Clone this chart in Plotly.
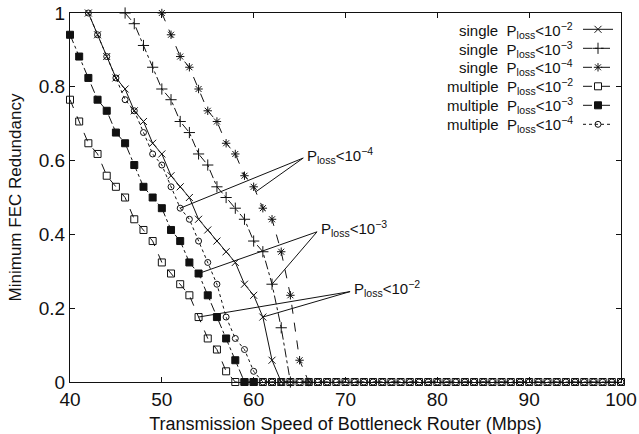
import plotly.graph_objects as go

# ---------------- data ----------------
speed_multi_2 = list(range(40, 101))
fec_multi_2 = [0.765, 0.706, 0.647, 0.618, 0.559, 0.529, 0.500, 0.441, 0.412, 0.382,
               0.324, 0.294, 0.265, 0.235, 0.176, 0.118, 0.088, 0.029,
               0, 0, 0, 0, 0, 0, 0, 0, 0, 0, 0, 0, 0, 0, 0, 0, 0, 0, 0, 0, 0, 0, 0,
               0, 0, 0, 0, 0, 0, 0, 0, 0, 0, 0, 0, 0, 0, 0, 0, 0, 0, 0, 0, 0]

speed_multi_3 = list(range(40, 61))
fec_multi_3 = [0.941, 0.882, 0.824, 0.765, 0.735, 0.676, 0.647, 0.588, 0.529, 0.500,
               0.471, 0.412, 0.382, 0.324, 0.294, 0.235, 0.176, 0.118, 0.059,
               0, 0]

speed_multi_4 = list(range(42, 101))
fec_multi_4 = [1.0, 0.941, 0.882, 0.824, 0.765, 0.735, 0.676, 0.618, 0.588, 0.529,
               0.471, 0.441, 0.382, 0.324, 0.265, 0.176, 0.118, 0.088, 0.029,
               0, 0, 0, 0, 0, 0, 0, 0, 0, 0, 0, 0, 0, 0, 0, 0, 0, 0, 0, 0, 0, 0,
               0, 0, 0, 0, 0, 0, 0, 0, 0, 0, 0, 0, 0, 0, 0, 0, 0, 0]

speed_single_2 = list(range(42, 64))
fec_single_2 = [1.0, 0.941, 0.882, 0.824, 0.794, 0.735, 0.706, 0.647, 0.618, 0.559,
                0.529, 0.500, 0.441, 0.412, 0.382, 0.353, 0.324, 0.265, 0.235, 0.176,
                0.059, 0]

speed_single_3 = list(range(46, 65))
fec_single_3 = [1.0, 0.971, 0.912, 0.853, 0.794, 0.765, 0.706, 0.676, 0.618, 0.588,
                0.529, 0.500, 0.471, 0.441, 0.382, 0.353, 0.265, 0.147, 0]

speed_single_4 = list(range(50, 67))
fec_single_4 = [1.0, 0.941, 0.882, 0.853, 0.794, 0.735, 0.706, 0.647, 0.618, 0.559,
                0.529, 0.471, 0.441, 0.353, 0.235, 0.059, 0]

legend_labels = [
    "single\u00a0\u00a0P<sub>loss</sub>&lt;10<sup>\u22122</sup>",
    "single\u00a0\u00a0P<sub>loss</sub>&lt;10<sup>\u22123</sup>",
    "single\u00a0\u00a0P<sub>loss</sub>&lt;10<sup>\u22124</sup>",
    "multiple\u00a0\u00a0P<sub>loss</sub>&lt;10<sup>\u22122</sup>",
    "multiple\u00a0\u00a0P<sub>loss</sub>&lt;10<sup>\u22123</sup>",
    "multiple\u00a0\u00a0P<sub>loss</sub>&lt;10<sup>\u22124</sup>",
]

x_ticks = [40, 50, 60, 70, 80, 90, 100]
x_ticktext = ["40", "50", "60", "70", "80", "90", "100"]
y_ticks = [0, 0.2, 0.4, 0.6, 0.8, 1.0]
y_ticktext = ["0", "0.2", "0.4", "0.6", "0.8", "1"]

callout_text = ["P<sub>loss</sub>&lt;10<sup>\u22124</sup>",
                "P<sub>loss</sub>&lt;10<sup>\u22123</sup>",
                "P<sub>loss</sub>&lt;10<sup>\u22122</sup>"]
callout_anchor_x = [65.4, 66.9, 70.5]
callout_anchor_y = [0.607, 0.407, 0.245]

FONT = "Liberation Sans, Arial, Helvetica, sans-serif"
BLK = "#111111"

fig = go.Figure()

series = [
    (speed_single_2, fec_single_2, "x-thin-open", "solid", 7, legend_labels[0]),
    (speed_single_3, fec_single_3, "cross-thin-open", "dashdot", 8, legend_labels[1]),
    (speed_single_4, fec_single_4, "asterisk-open", "dash", 7, legend_labels[2]),
    (speed_multi_2, fec_multi_2, "square-open", "dash", 7, legend_labels[3]),
    (speed_multi_3, fec_multi_3, "square", "dashdot", 7, legend_labels[4]),
    (speed_multi_4, fec_multi_4, "circle-open", "dot", 6, legend_labels[5]),
]

for xs, ys, sym, dash, size, label in series:
    fig.add_trace(go.Scatter(
        x=xs, y=ys, mode="lines+markers", name=" ",
        line=dict(color=BLK, width=1, dash=dash),
        marker=dict(symbol=sym, size=size, color=BLK,
                    line=dict(color=BLK, width=1)),
        cliponaxis=False, hoverinfo="x+y",
    ))

annotations = []
row0 = 30.3
for i, lab in enumerate(legend_labels):
    ypx = row0 + 18.8 * i
    annotations.append(dict(
        xref="paper", yref="paper", x=(575 - 70) / 551, y=1 - (ypx - 13) / 369,
        xanchor="right", yanchor="middle", text=lab, showarrow=False,
        font=dict(family=FONT, size=15, color=BLK), align="right"))

targets = [
    [(speed_multi_4[10], fec_multi_4[10]), (60.26, 0.516)],
    [(speed_multi_3[14], fec_multi_3[14]), (speed_single_3[16], fec_single_3[16])],
    [(speed_multi_2[14], fec_multi_2[14]), (speed_single_2[19], fec_single_2[19])],
]
shapes = []
for k in range(3):
    ax_, ay_ = callout_anchor_x[k], callout_anchor_y[k]
    for (tx, ty) in targets[k]:
        shapes.append(dict(type="line", xref="x", yref="y", x0=ax_, y0=ay_, x1=tx, y1=ty,
                           line=dict(color=BLK, width=1)))
    annotations.append(dict(
        x=ax_, y=ay_, xref="x", yref="y", text=callout_text[k], showarrow=False,
        xanchor="left", yanchor="middle", xshift=2, yshift=3,
        font=dict(family=FONT, size=15, color=BLK)))

fig.update_layout(
    width=639, height=434,
    margin=dict(l=70, r=18, t=13, b=52, autoexpand=False),
    paper_bgcolor="white", plot_bgcolor="white",
    font=dict(family=FONT, color=BLK),
    showlegend=True,
    legend=dict(x=(578 - 70) / 551, y=1 - (14.8 - 13) / 369, xanchor="left", yanchor="top",
                bgcolor="rgba(0,0,0,0)", borderwidth=0, font=dict(size=11)),
    annotations=annotations,
    shapes=shapes,
    xaxis=dict(range=[40, 100], tickvals=x_ticks, ticktext=x_ticktext, automargin=False,
               ticks="inside", ticklen=5, tickcolor=BLK, showline=True, linecolor=BLK,
               linewidth=1, mirror="ticks", showgrid=False, zeroline=False,
               tickfont=dict(size=19, family=FONT),
               title=dict(text="Transmission Speed of Bottleneck Router (Mbps)",
                          font=dict(size=18, family=FONT), standoff=12)),
    yaxis=dict(range=[0, 1], tickvals=y_ticks, ticktext=y_ticktext, automargin=False,
               ticks="inside", ticklen=5, tickcolor=BLK, showline=True, linecolor=BLK,
               linewidth=1, mirror="ticks", showgrid=False, zeroline=False,
               tickfont=dict(size=19, family=FONT),
               title=dict(text="Minimum FEC Redundancy",
                          font=dict(size=17, family=FONT), standoff=12)),
)

fig.write_html("out.html")
